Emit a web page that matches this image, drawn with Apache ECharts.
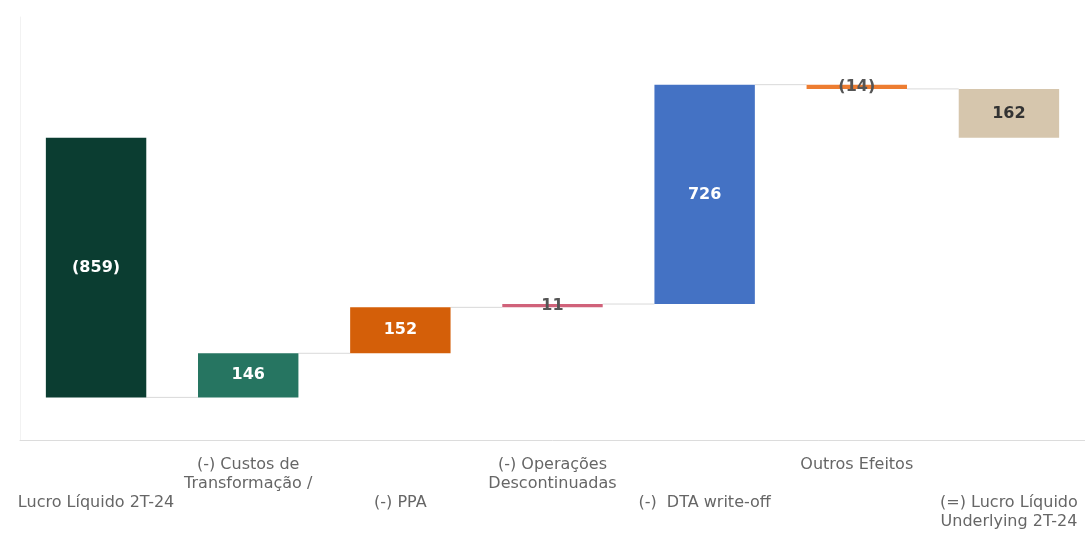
<!DOCTYPE html>
<html>
<head>
<meta charset="utf-8">
<script src="https://cdn.jsdelivr.net/npm/echarts@6/dist/echarts.min.js"></script>
<style>
html,body{margin:0;padding:0;background:#fff;}
#c{width:1085px;height:536px;}
</style>
</head>
<body>
<div id="c"></div>
<script>
const categories = [
  "Lucro Líquido 2T-24",
  "(-) Custos de\nTransformação /",
  "(-) PPA",
  "(-) Operações\nDescontinuadas",
  "(-)  DTA write-off",
  "Outros Efeitos",
  "(=) Lucro Líquido\nUnderlying 2T-24"
];
const values = [-859, 146, 152, 11, 726, -14, 162];
const isTotal = [true, false, false, false, false, false, true];
const barColors = ["#0b3d31", "#267561", "#d45f09", "#d0627a", "#4472c4", "#ed7d31", "#d6c6ad"];
const labelColors = ["#ffffff", "#ffffff", "#ffffff", "#555555", "#ffffff", "#555555", "#333333"];

// waterfall geometry from values
const starts = [], ends = [];
let cum = 0;
values.forEach((v, i) => {
  let s = isTotal[i] ? 0 : cum;
  let e = isTotal[i] && i > 0 ? v : s + v;
  starts.push(s); ends.push(e);
  cum = e;
});
const baseData = starts.map((s, i) => Math.min(s, ends[i]));
const barData = values.map((v, i) => ({
  value: Math.abs(ends[i] - starts[i]),
  itemStyle: { color: barColors[i] },
  label: { color: labelColors[i] }
}));
const connectorData = ends.slice(0, -1).map((e, i) => [i, e]);

const FONT = '"DejaVu Sans", Verdana, sans-serif';

const chart = echarts.init(document.getElementById('c'));
chart.setOption({
  animation: false,
  grid: { left: 20, right: 0, top: 17, bottom: 96, containLabel: false },
  xAxis: {
    type: 'category',
    data: categories,
    axisLine: { show: true, onZero: false, lineStyle: { color: '#dcdcdc', width: 1 } },
    axisTick: { show: false },
    axisLabel: {
      interval: 0,
      margin: 15,
      color: '#666',
      fontFamily: FONT,
      fontSize: 16,
      lineHeight: 19,
      verticalAlign: 'top',
      formatter: function (val, idx) {
        return idx % 2 === 0 ? '\n\n' + val : val;
      }
    }
  },
  yAxis: {
    type: 'value',
    min: -1000,
    max: 400,
    axisLine: { show: true, lineStyle: { color: '#f2f2f2' } },
    axisLabel: { show: false },
    axisTick: { show: false },
    splitLine: { show: false }
  },
  series: [
    {
      type: 'custom',
      z: 1,
      data: connectorData,
      renderItem: function (params, api) {
        const i = api.value(0), v = api.value(1);
        const p1 = api.coord([i, v]);
        const p2 = api.coord([i + 1, v]);
        const bw = api.size([1, 0])[0] * 0.33;
        return {
          type: 'line',
          shape: { x1: p1[0] + bw, y1: p1[1], x2: p2[0] - bw, y2: p2[1] },
          style: { stroke: '#d9d9d9', lineWidth: 1 }
        };
      }
    },
    {
      type: 'bar',
      stack: 'wf',
      stackStrategy: 'all',
      barWidth: '66%',
      itemStyle: { color: 'transparent' },
      emphasis: { disabled: true },
      data: baseData
    },
    {
      type: 'bar',
      stack: 'wf',
      stackStrategy: 'all',
      barWidth: '66%',
      z: 3,
      data: barData,
      label: {
        show: true,
        position: 'inside',
        fontFamily: FONT,
        fontWeight: 'bold',
        fontSize: 16,
        formatter: function (p) {
          const v = values[p.dataIndex];
          return v < 0 ? '(' + Math.abs(v) + ')' : String(v);
        }
      }
    }
  ]
});
</script>
</body>
</html>
